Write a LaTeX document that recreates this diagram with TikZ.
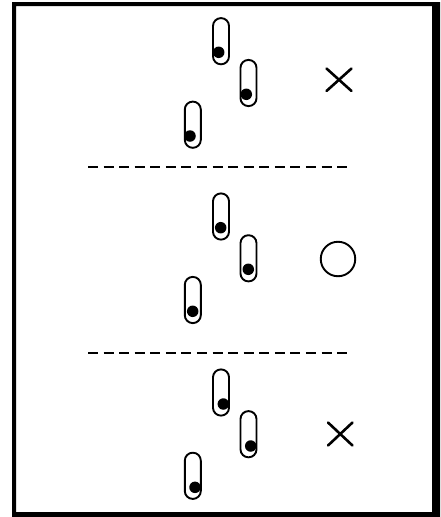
\documentclass[tikz,border=0pt]{standalone}
\tikzset{
  slotbox/.style={draw=black,line width=1.9pt,rounded corners=7.9pt,minimum width=16pt,minimum height=46.2pt,inner sep=0pt,outer sep=0pt},
  ballnode/.style={circle,fill=black,draw=none,minimum size=11.5pt,inner sep=0pt},
  divider/.style={draw=black,line width=2pt,dash pattern=on 10pt off 5.57pt},
  crossline/.style={draw=black,line width=2.6pt,line cap=round},
  framebox/.style={draw=none,fill=black,even odd rule},
  markcircle/.style={circle,draw=black,line width=1.9pt,minimum size=34.5pt,inner sep=0pt}
}
\begin{document}
\begin{tikzpicture}[x=1pt,y=-1pt]
\useasboundingbox (0,0) rectangle (440,517);
\fill[white] (0,0) rectangle (440,517);
\fill[framebox] (12,2) rectangle (440,517) (16,6) rectangle (432,512);
% top group
\node[slotbox] (a1) at (221,41.2) {};
\node[slotbox] (a2) at (248.5,83) {};
\node[slotbox] (a3) at (192.8,124.7) {};
\node[ballnode] (ba1) at (218.7,52.3) {};
\node[ballnode] (ba2) at (246.3,94.3) {};
\node[ballnode] (ba3) at (190,136) {};
\coordinate (xa1) at (326.5,68.5);
\coordinate (xa2) at (351.5,91);
\coordinate (xa3) at (351.5,68.5);
\coordinate (xa4) at (326.5,91);
\draw[crossline] (xa1) -- (xa2);
\draw[crossline] (xa3) -- (xa4);
\coordinate (d1s) at (88,166.7);
\coordinate (d1e) at (349.5,166.7);
\draw[divider] (d1s) -- (d1e);
% middle group
\node[slotbox] (b1) at (221,216.5) {};
\node[slotbox] (b2) at (248.5,258.3) {};
\node[slotbox] (b3) at (192.8,300) {};
\node[ballnode] (bb1) at (220.7,227.7) {};
\node[ballnode] (bb2) at (248.3,269.3) {};
\node[ballnode] (bb3) at (192.7,311.3) {};
\node[markcircle] (mc) at (338,259) {};
\coordinate (d2s) at (88,353.3);
\coordinate (d2e) at (349.5,353.3);
\draw[divider] (d2s) -- (d2e);
% bottom group
\node[slotbox] (c1) at (221,392.5) {};
\node[slotbox] (c2) at (248.5,434.2) {};
\node[slotbox] (c3) at (192.8,475.8) {};
\node[ballnode] (bc1) at (223.3,404) {};
\node[ballnode] (bc2) at (250.7,446) {};
\node[ballnode] (bc3) at (195,487.3) {};
\coordinate (xc1) at (328,422.5);
\coordinate (xc2) at (352.5,445.5);
\coordinate (xc3) at (352.5,422.5);
\coordinate (xc4) at (328,445.5);
\draw[crossline] (xc1) -- (xc2);
\draw[crossline] (xc3) -- (xc4);
\end{tikzpicture}
\end{document}
